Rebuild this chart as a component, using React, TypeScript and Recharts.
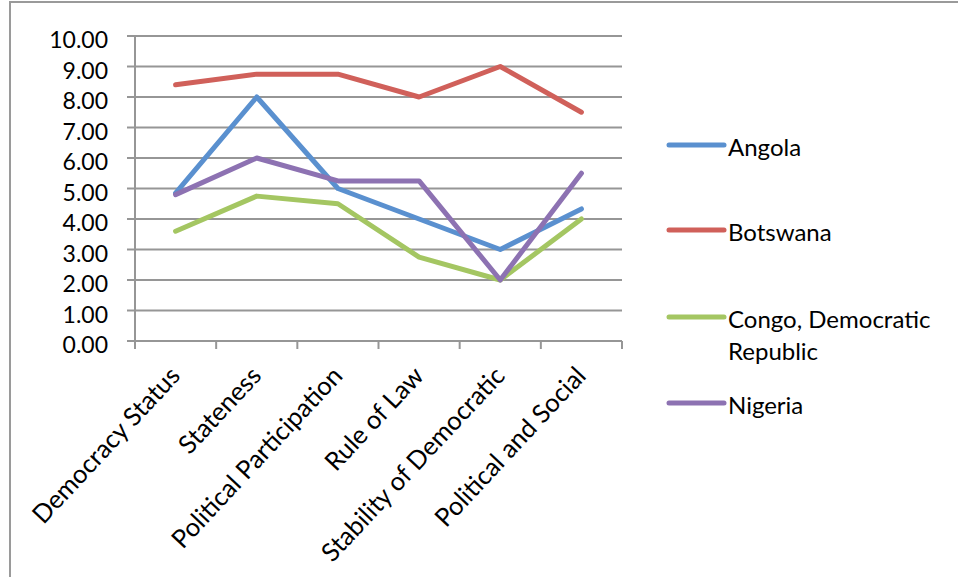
import React from 'react'
import { LineChart, Line, XAxis, YAxis, CartesianGrid, Legend } from 'recharts'

const categories = [
  'Democracy Status',
  'Stateness',
  'Political Participation',
  'Rule of Law',
  'Stability of Democratic',
  'Political and Social',
]
const angola = [4.85, 8.0, 5.0, 4.0, 3.0, 4.33]
const botswana = [8.4, 8.75, 8.75, 8.0, 9.0, 7.5]
const congo = [3.6, 4.75, 4.5, 2.75, 2.0, 4.0]
const nigeria = [4.8, 6.0, 5.25, 5.25, 2.0, 5.5]
const yTicks = [0, 1, 2, 3, 4, 5, 6, 7, 8, 9, 10]

const series = [
  { key: 'angola', name: 'Angola', color: '#5a90cf', values: angola },
  { key: 'botswana', name: 'Botswana', color: '#d0605a', values: botswana },
  { key: 'congo', name: 'Congo, Democratic Republic', color: '#a4c662', values: congo },
  { key: 'nigeria', name: 'Nigeria', color: '#8d72b2', values: nigeria },
]

const data = categories.map((c, i) => {
  const row: Record<string, string | number> = { category: c }
  series.forEach(s => { row[s.key] = s.values[i] })
  return row
})

const FONT = 'Lato, "Open Sans", sans-serif'
const GRID = '#969696'
const W = 958
const H = 577

// word wrap for legend labels
function wrap(text: string, max: number) {
  const lines: string[] = []
  let cur = ''
  text.split(' ').forEach(w => {
    const next = cur ? cur + ' ' + w : w
    if (next.length > max && cur) { lines.push(cur); cur = w } else cur = next
  })
  if (cur) lines.push(cur)
  return lines
}

function YTick({ x, y, payload }: any) {
  return (
    <text x={x} y={y} dy={12} textAnchor="end" fontSize={23} fontFamily={FONT} fill="#000">
      {Number(payload.value).toFixed(2)}
    </text>
  )
}

function XTick({ x, y, payload, index }: any) {
  const half = payload.offset || (622 - 135) / 12
  const ax = y - 8
  const tx = x + 6
  const ty = ax + 36
  return (
    <g>
      <line x1={x - half} x2={x - half} y1={ax} y2={ax + 8} stroke={GRID} strokeWidth={2} />
      {index === categories.length - 1 && (
        <line x1={x + half} x2={x + half} y1={ax} y2={ax + 8} stroke={GRID} strokeWidth={2} />
      )}
      <text
        x={tx}
        y={ty}
        textAnchor="end"
        fontSize={25.5}
        fontFamily={FONT}
        fill="#000"
        transform={`rotate(-47, ${tx}, ${ty})`}
      >
        {payload.value}
      </text>
    </g>
  )
}

// legend rows: line position of each entry
const legendRowY = [25, 110, 197, 283]

function LegendBox() {
  return (
    <svg width={295} height={320} style={{ display: 'block' }}>
      {series.map((s, i) => {
        const ly = legendRowY[i]
        const lines = wrap(s.name, 18)
        return (
          <g key={s.key}>
            <line x1={9} x2={64} y1={ly} y2={ly} stroke={s.color} strokeWidth={5} strokeLinecap="round" />
            {lines.map((t, j) => (
              <text key={j} x={68} y={ly + 11 + j * 32} fontSize={24} fontFamily={FONT} fill="#000">
                {t}
              </text>
            ))}
          </g>
        )
      })}
    </svg>
  )
}

export default function App() {
  return (
    <div style={{ position: 'absolute', left: 0, top: 0, width: W, height: H, overflow: 'hidden', background: '#fff' }}>
      <div
        style={{
          position: 'absolute', left: 9, top: 1, width: 1000, height: 574,
          borderLeft: '2px solid #9a9a9a', borderTop: '2px solid #9a9a9a', borderBottom: '1px solid #ececec',
        }}
      />
      <LineChart width={W} height={H} data={data} margin={{ top: 36, right: 336, bottom: 0, left: 0 }}>
        <CartesianGrid vertical={false} stroke={GRID} strokeWidth={2} />
        <XAxis
          dataKey="category"
          scale="band"
          height={236}
          interval={0}
          tickLine={false}
          axisLine={{ stroke: GRID, strokeWidth: 2 }}
          tick={<XTick />}
        />
        <YAxis
          width={135}
          domain={[0, 10]}
          ticks={yTicks}
          interval={0}
          tickSize={8}
          tickMargin={19}
          tickLine={{ stroke: GRID, strokeWidth: 2 }}
          axisLine={{ stroke: GRID, strokeWidth: 2 }}
          tick={<YTick />}
        />
        <Legend
          layout="vertical"
          align="center"
          verticalAlign="middle"
          wrapperStyle={{ left: 660, top: 120, width: 295 }}
          content={() => <LegendBox />}
        />
        {series.map(s => (
          <Line
            key={s.key}
            dataKey={s.key}
            name={s.name}
            stroke={s.color}
            strokeWidth={5}
            strokeLinecap="round"
            strokeLinejoin="round"
            dot={false}
            activeDot={false}
            isAnimationActive={false}
          />
        ))}
      </LineChart>
    </div>
  )
}
